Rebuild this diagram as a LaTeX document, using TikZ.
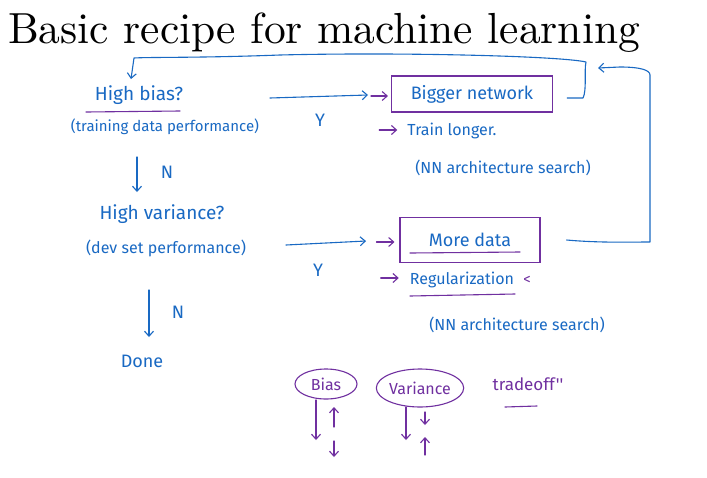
\documentclass[tikz,border=0pt]{standalone}
\usepackage{fontspec}
\newfontfamily\hand{Fira Sans}
\newfontfamily\titlefont{lmroman10-regular.otf}
\usetikzlibrary{arrows.meta,calc,shapes.geometric}
\definecolor{inkblue}{RGB}{25,105,195}
\definecolor{inkpurple}{RGB}{112,48,160}
\tikzset{
  ink/.style={inkblue, line width=1.1pt, line cap=round, line join=round},
  pink/.style={inkpurple, line width=1.1pt, line cap=round, line join=round},
  tip/.style={-{Straight Barb[length=5pt,width=9pt]}},
  hw/.style={text=inkblue, font=\hand\fontsize{15}{17}\selectfont, inner sep=1pt},
  hwbig/.style={text=inkblue, font=\hand\fontsize{18}{20}\selectfont, inner sep=1pt},
  hwp/.style={text=inkpurple, font=\hand\fontsize{15}{17}\selectfont, inner sep=1pt},
  boxp/.style={draw=inkpurple, line width=1.1pt, text=inkblue, font=\hand\fontsize{18}{20}\selectfont},
}
\begin{document}
\begin{tikzpicture}[x=1pt,y=-1pt]
\fill[white] (0,0) rectangle (707,477);
\useasboundingbox (0,0) rectangle (707,477);
% title
\node[anchor=base west, inner sep=0, font=\titlefont\fontsize{43.5}{48}\selectfont] (title) at (8,43) {Basic recipe for machine learning};
% left column
\node[hwbig, font=\hand\fontsize{19}{21}\selectfont] (hb) at (139,95) {High bias?};
\node[hw] (hbsub) at (165,127) {(training data performance)};
\node[hwbig] (n1) at (167,172) {N};
\node[hwbig, font=\hand\fontsize{19}{21}\selectfont] (hv) at (162,214) {High variance?};
\node[hw, font=\hand\fontsize{16}{18}\selectfont] (hvsub) at (166,248) {(dev set performance)};
\node[hwbig] (n2) at (178,312) {N};
\node[hwbig] (done) at (142,361) {Done};
\coordinate (a1s) at (137,157); \coordinate (a1e) at (137,192);
\draw[ink,tip] (a1s) -- (a1e);
\coordinate (a2s) at (149,290); \coordinate (a2e) at (149,337);
\draw[ink,tip] (a2s) -- (a2e);
\draw[pink] (86,112) -- (180,111);
% right column, bias branch
\node[boxp, minimum width=161, minimum height=36] (bn) at (472,94) {Bigger network};
\node[hw, font=\hand\fontsize{16}{18}\selectfont] (tl) at (452,131) {Train longer.};
\node[hw, font=\hand\fontsize{16}{18}\selectfont] (nas1) at (503,168) {(NN architecture search)};
\node[hwbig] (y1) at (320,120) {Y};
\coordinate (b1s) at (270,98); \coordinate (b1e) at (368,95);
\draw[ink,tip] (b1s) -- (b1e);
\draw[pink,tip] ($(bn.west)+(-20,2)$) -- ($(bn.west)+(-3,2)$);
\draw[pink,tip] ($(tl.west)+(-27,-1)$) -- ($(tl.west)+(-9,-1)$);
% right column, variance branch
\node[boxp, minimum width=140, minimum height=45] (md) at (470,240) {More data};
\node[hw, font=\hand\fontsize{16}{18}\selectfont] (reg) at (462,280) {Regularization};
\node[hwp] (lt) at (527,280) {<};
\node[hw, font=\hand\fontsize{16}{18}\selectfont] (nas2) at (517,325) {(NN architecture search)};
\node[hwbig] (y2) at (318,270) {Y};
\coordinate (b2s) at (286,245); \coordinate (b2e) at (366,241);
\draw[ink,tip] (b2s) -- (b2e);
\draw[pink,tip] ($(md.west)+(-23,2)$) -- ($(md.west)+(-5,2)$);
\draw[pink,tip] ($(reg.west)+(-28,-2)$) -- ($(reg.west)+(-10,-2)$);
\draw[pink] (410,253) -- (520,252);
\draw[pink] (410,296) -- (515,294);
% feedback loops
\coordinate (l1) at ($(bn.east)+(14,4)$);
\coordinate (l1end) at (131,79);
\draw[ink,tip] (l1) -- (583,98) .. controls (587,90) and (584,70) .. (586,62)
  .. controls (560,56) and (400,52) .. (280,55) .. controls (200,58) and (150,57) .. (134,58) -- (l1end);
\coordinate (l2) at ($(md.east)+(26,0)$);
\coordinate (l2end) at (598,68);
\draw[ink,tip] (l2) .. controls (600,243) and (630,242) .. (650,242) -- (650,75) .. controls (650,70) and (640,67) .. (620,67) -- (l2end);
% bias / variance
\node[draw=inkpurple, line width=1.1pt, ellipse, minimum width=62, minimum height=30, inner sep=0, text=inkpurple, font=\hand\fontsize{16}{18}\selectfont] (bias) at (326,384) {Bias};
\node[draw=inkpurple, line width=1.1pt, ellipse, minimum width=86, minimum height=38, inner sep=0, text=inkpurple, font=\hand\fontsize{16}{18}\selectfont] (var) at (420,388) {Variance};
\node[hwp, font=\hand\fontsize{17}{19}\selectfont] (trade) at (528,384) {tradeoff''};
\draw[pink] (505,407) -- (537,406);
\coordinate (bd1s) at (316,400); \coordinate (bd1) at (316,440);
\coordinate (bu1s) at (334,427); \coordinate (bu1e) at (334,407);
\coordinate (bd2s) at (334,441); \coordinate (bd2e) at (334,457);
\draw[pink,tip] (bd1s) -- (bd1);
\draw[pink,tip] (bu1s) -- (bu1e);
\draw[pink,tip] (bd2s) -- (bd2e);
\coordinate (vd1s) at (406,407); \coordinate (vd1) at (406,440);
\coordinate (vd2s) at (425,412); \coordinate (vd2) at (425,425);
\coordinate (vu) at (425,455); \coordinate (vue) at (425,437);
\draw[pink,tip] (vd1s) -- (vd1);
\draw[pink,tip] (vd2s) -- (vd2);
\draw[pink,tip] (vu) -- (vue);
\end{tikzpicture}
\end{document}
